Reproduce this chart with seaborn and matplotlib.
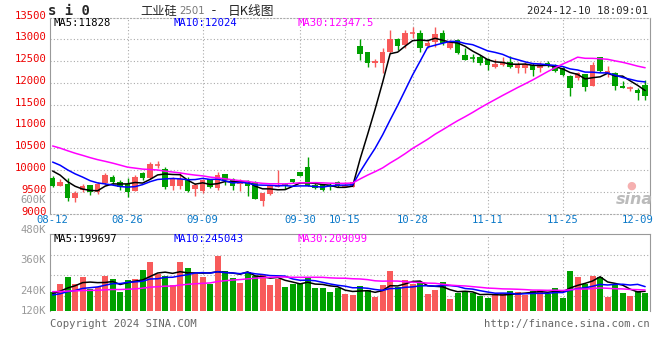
import pandas as pd
import seaborn as sns
import matplotlib.pyplot as plt

sns.set_style('white')
plt.rcParams['font.family'] = ['DejaVu Sans Mono', 'Noto Sans CJK SC']

# trading days shown (Mid-Autumn and National Day holidays removed)
holidays = ['2024-09-16', '2024-09-17', '2024-10-01', '2024-10-02', '2024-10-03',
            '2024-10-04', '2024-10-07']
dates = pd.bdate_range('2024-08-12', '2024-12-10', freq='C', holidays=holidays)
date_labels = ['08-12', '08-26', '09-09', '09-30', '10-15', '10-28', '11-11', '11-25', '12-09']

opens = [9820, 9635, 9673, 9357, 9537, 9650, 9500, 9710, 9838, 9733,
         9688, 9523, 9921, 9808, 10115, 10026, 9635, 9635, 9800, 9560,
         9523, 9786, 9575, 9898, 9800, 9673, 9690, 9720, 9290, 9440,
         9615, 9675, 9783, 9950, 10070, 9660, 9660, 9645, 9714, 9620,
         9614, 12847, 12700, 12449, 12449, 12717, 13000, 12870, 13120, 13138,
         12847, 12946, 13138, 12794, 12985, 12641, 12590, 12596, 12550, 12374,
         12412, 12489, 12336, 12336, 12412, 12336, 12458, 12412, 12336, 12161,
         12107, 12207, 11932, 12588, 12199, 12222, 11932, 11855, 11840, 11955]
highs = [9860, 9786, 9823, 9520, 9688, 9660, 9725, 9936, 9876, 9770,
         9808, 9876, 9958, 10177, 10200, 10064, 9846, 9950, 9838, 9710,
         9800, 9800, 9950, 9900, 9823, 9786, 9780, 9750, 9480, 9640,
         9995, 9690, 9800, 9960, 10300, 9690, 9680, 9700, 9740, 9720,
         9720, 13000, 12700, 12540, 12793, 13214, 13020, 13214, 13290, 13214,
         12990, 13290, 13214, 12985, 13000, 12810, 12657, 12640, 12560, 12550,
         12588, 12626, 12474, 12474, 12450, 12474, 12504, 12435, 12374, 12184,
         12260, 12207, 12474, 12600, 12390, 12245, 12046, 11917, 11890, 12069]
lows = [9600, 9630, 9296, 9274, 9500, 9425, 9455, 9658, 9673, 9545,
        9387, 9515, 9763, 9786, 10050, 9560, 9545, 9560, 9500, 9410,
        9470, 9580, 9545, 9658, 9545, 9523, 9410, 9330, 9180, 9420,
        9600, 9560, 9700, 9850, 9630, 9560, 9510, 9540, 9600, 9600,
        9600, 12525, 12372, 12372, 12234, 12680, 12755, 12793, 13020, 12717,
        12793, 12830, 12870, 12780, 12657, 12530, 12474, 12410, 12298, 12350,
        12397, 12350, 12237, 12222, 12168, 12260, 12374, 12260, 12168, 11688,
        12070, 11817, 11930, 12260, 12145, 11840, 11870, 11802, 11611, 11611]
closes = [9640, 9726, 9349, 9470, 9620, 9485, 9688, 9876, 9726, 9613,
          9500, 9846, 9808, 10147, 10125, 9613, 9786, 9786, 9523, 9658,
          9770, 9598, 9876, 9770, 9635, 9748, 9640, 9340, 9470, 9630,
          9640, 9660, 9714, 9860, 9640, 9580, 9530, 9630, 9620, 9640,
          9714, 12663, 12450, 12510, 12717, 13000, 12847, 13138, 13140, 12793,
          12923, 13122, 12908, 12931, 12695, 12535, 12575, 12451, 12412, 12435,
          12474, 12374, 12435, 12435, 12298, 12435, 12412, 12275, 12184, 11878,
          12222, 11894, 12412, 12283, 12283, 11917, 11878, 11870, 11764, 11688]
# volume in thousands of lots
volumes = [183, 256, 325, 256, 325, 209, 230, 332, 303, 183,
           294, 303, 389, 467, 348, 335, 246, 467, 410, 348,
           325, 256, 524, 379, 316, 268, 367, 335, 341, 246,
           303, 230, 253, 253, 325, 215, 215, 183, 215, 161,
           152, 237, 199, 136, 246, 382, 225, 294, 253, 263,
           161, 199, 272, 114, 168, 183, 168, 145, 126, 152,
           168, 192, 183, 152, 192, 199, 161, 221, 126, 382,
           325, 256, 335, 325, 136, 256, 174, 145, 192, 168]
# closes and volumes before 08-12, needed for the moving averages at the left edge
prev_closes = [11200, 11150, 11180, 11100, 11050, 11080, 11020, 10960, 10990, 10920,
               10500, 10480, 10440, 10460, 10400, 10380, 10420, 10350, 10320, 10300,
               10450, 10420, 10380, 10360, 10315, 10200, 10100, 10000, 9940]
prev_volumes = [210, 190, 220, 200, 185, 205, 195, 215, 190, 200,
                210, 185, 195, 205, 190, 200, 195, 190, 200, 195,
                140, 130, 145, 125, 140, 160, 170, 150, 177]

n = len(closes)
df = pd.DataFrame({'x': range(n), 'date': dates.strftime('%m-%d'), 'open': opens,
                   'high': highs, 'low': lows, 'close': closes, 'vol': volumes})
all_close = pd.Series(prev_closes + closes)
all_vol = pd.Series(prev_volumes + volumes)
k = len(prev_closes)
for w in (5, 10, 30):
    df[f'ma{w}'] = all_close.rolling(w).mean().iloc[k:].values
    df[f'vma{w}'] = all_vol.rolling(w).mean().iloc[k:].values

RED, GREEN = '#f85a5a', '#00a000'
df['color'] = [RED if c >= o else GREEN for o, c in zip(df['open'], df['close'])]

W, H = 660, 360
fig = plt.figure(figsize=(6.6, 3.6), dpi=100)
fig.patch.set_facecolor('white')


def frac(x, y):
    return x / W, 1 - y / H


ax = fig.add_axes([50 / W, 1 - 213.5 / H, 600 / W, 196 / H])
axv = fig.add_axes([50 / W, 1 - 311 / H, 600 / W, 77 / H])

grid_kw = dict(color='#aaaaaa', lw=0.8, linestyle=(0, (1, 2)))
tick_pos = [df.index[df['date'] == d][0] for d in date_labels]

# candles
for r in df.itertuples():
    ax.vlines(r.x, r.low, r.high, color=r.color, lw=1, zorder=3)
    if abs(r.close - r.open) < 25:
        ax.hlines(r.close, r.x - 0.38, r.x + 0.38, color=r.color, lw=1.2, zorder=3)
    else:
        ax.bar(r.x, abs(r.close - r.open), bottom=min(r.open, r.close), width=0.76,
               color=r.color, lw=0, zorder=3)

for col, c in (('ma5', 'black'), ('ma10', '#0000ff'), ('ma30', '#ff00ff')):
    sns.lineplot(data=df, x='x', y=col, ax=ax, color=c, lw=1.1, zorder=4)

ax.set_xlim(-0.35, n - 0.35)
ax.set_ylim(9000, 13500)
for lv in range(9500, 13500, 500):
    ax.axhline(lv, **grid_kw, zorder=1)
for p in tick_pos[1:-1]:
    ax.axvline(p, **grid_kw, zorder=1)
    axv.axvline(p, **grid_kw, zorder=1)

ax.set_xticks([])
ax.set_yticks([])
ax.set_xlabel('')
ax.set_ylabel('')
for s in ('left', 'right'):
    ax.spines[s].set_color('#999999')
for s in ('top', 'bottom'):
    ax.spines[s].set_color('#aaaaaa')
    ax.spines[s].set_linestyle((0, (1, 2)))

for lv in range(9000, 14000, 500):
    ax.text(-0.006, lv + 45, str(lv), transform=ax.get_yaxis_transform(), ha='right',
            va='center', color='#ee0000', fontsize=7.6)
for p, lab in zip(tick_pos, date_labels):
    xp = 50 + 600 * (p + 0.35) / n
    fig.text(*frac(max(xp, 50), 219.5), lab, ha='center', va='center', color='#0a78c8',
             fontsize=7.6)

# volume panel
axv.bar(df['x'], df['vol'], width=0.78, color=df['color'], lw=0, zorder=3)
for col, c in (('vma5', 'black'), ('vma10', '#0000ff'), ('vma30', '#ff00ff')):
    sns.lineplot(data=df, x='x', y=col, ax=axv, color=c, lw=1.1, zorder=4)
axv.set_xlim(-0.35, n - 0.35)
axv.set_ylim(0, 730)
for yp in (255, 275, 296):
    axv.axhline((311 - yp) / 77 * 730, **grid_kw, zorder=1)
axv.set_xticks([])
axv.set_yticks([])
axv.set_xlabel('')
axv.set_ylabel('')
for s in ('left', 'right', 'top'):
    axv.spines[s].set_color('#999999')
axv.spines['bottom'].set_visible(False)

for lab, yp in (('600K', 200), ('480K', 230), ('360K', 260), ('240K', 291), ('120K', 311)):
    fig.text(*frac(46, yp), lab, ha='right', va='center', color='#999999', fontsize=7.6)

# legends
for y0, items in ((23.5, (('MA5:11828', 'black'), ('MA10:12024', '#0000ff'),
                         ('MA30:12347.5', '#ff00ff'))),
                  (239, (('MA5:199697', 'black'), ('MA10:245043', '#0000ff'),
                         ('MA30:209099', '#ff00ff')))):
    for (txt, c), x0 in zip(items, (53, 174, 297)):
        fig.text(*frac(x0, y0), txt, ha='left', va='center', color=c, fontsize=7.6)

# header
fig.text(*frac(48, 11), 's i 0', ha='left', va='center', fontsize=10, fontweight='bold')
fig.text(*frac(140, 11), '工业硅', ha='left', va='center', fontsize=8.8,
         family=['Noto Sans CJK SC'])
fig.text(*frac(179, 11.5), '2501', ha='left', va='center', fontsize=7.3, color='#777777',
         family=['DejaVu Sans'])
fig.text(*frac(210, 11), '-', ha='left', va='center', fontsize=9.5)
fig.text(*frac(228, 11), '日K线图', ha='left', va='center', fontsize=9.2,
         family=['Noto Sans CJK SC', 'DejaVu Sans'])
fig.text(*frac(648, 11.5), '2024-12-10 18:09:01', ha='right', va='center', fontsize=7.6)

# footer
fig.text(*frac(50, 324), 'Copyright 2024 SINA.COM', ha='left', va='center',
         fontsize=7.6, color='#666666')
fig.text(*frac(650, 324), 'http://finance.sina.com.cn', ha='right', va='center',
         fontsize=7.6, color='#666666')

# sina watermark
fig.text(*frac(634, 199), 'sina', ha='center', va='center', fontsize=11.5,
         fontweight='bold', style='italic', color='#bbbbbb', family=['DejaVu Sans'])
fig.text(*frac(631, 186), '●', ha='center', va='center', fontsize=8, color='#f5b0b0',
         family=['DejaVu Sans'])

fig.savefig('out.png', dpi=100)
